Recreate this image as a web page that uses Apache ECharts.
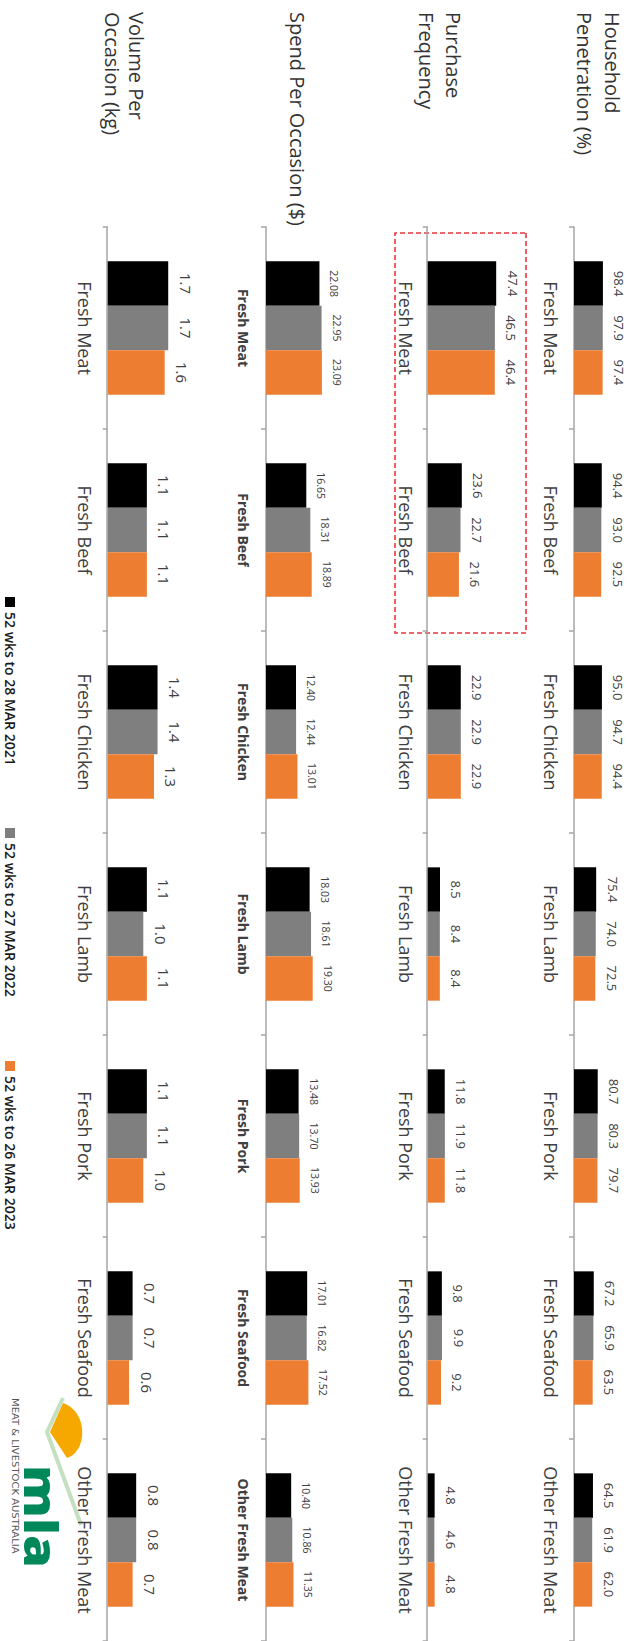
<!DOCTYPE html>
<html><head><meta charset="utf-8">
<script src="https://cdn.jsdelivr.net/npm/echarts@6/dist/echarts.min.js"></script>
<style>
html,body{margin:0;padding:0;background:#fff;overflow:hidden;width:627px;height:1641px;}
#chart{position:absolute;left:0;top:0;width:1641px;height:627px;transform-origin:0 0;transform:translateX(627px) rotate(90deg);}
</style></head><body><div id="chart"></div>
<script>
// ---------- data ----------
const categories = ['Fresh Meat','Fresh Beef','Fresh Chicken','Fresh Lamb','Fresh Pork','Fresh Seafood','Other Fresh Meat'];
const seriesNames = ['52 wks to 28 MAR 2021','52 wks to 27 MAR 2022','52 wks to 26 MAR 2023'];
const metricTitles = [['Household','Penetration (%)'],['Purchase','Frequency'],['Spend Per Occasion ($)'],['Volume Per','Occasion (kg)']];

const penetration2021 = [98.4, 94.4, 95.0, 75.4, 80.7, 67.2, 64.5];
const penetration2022 = [97.9, 93.0, 94.7, 74.0, 80.3, 65.9, 61.9];
const penetration2023 = [97.4, 92.5, 94.4, 72.5, 79.7, 63.5, 62.0];

const frequency2021 = [47.4, 23.6, 22.9, 8.5, 11.8, 9.8, 4.8];
const frequency2022 = [46.5, 22.7, 22.9, 8.4, 11.9, 9.9, 4.6];
const frequency2023 = [46.4, 21.6, 22.9, 8.4, 11.8, 9.2, 4.8];

const spend2021 = [22.08, 16.65, 12.40, 18.03, 13.48, 17.01, 10.40];
const spend2022 = [22.95, 18.31, 12.44, 18.61, 13.70, 16.82, 10.86];
const spend2023 = [23.09, 18.89, 13.01, 19.30, 13.93, 17.52, 11.35];

const volume2021 = [1.7, 1.1, 1.4, 1.1, 1.1, 0.7, 0.8];
const volume2022 = [1.7, 1.1, 1.4, 1.0, 1.1, 0.7, 0.8];
const volume2023 = [1.6, 1.1, 1.3, 1.1, 1.0, 0.6, 0.7];

const metricData = [
  [penetration2021, penetration2022, penetration2023],
  [frequency2021, frequency2022, frequency2023],
  [spend2021, spend2022, spend2023],
  [volume2021, volume2022, volume2023]
];
const axisMax = [100, 50, 25, 2];
const decimals = [1, 1, 2, 1];

// ---------- layout / style (chart drawn in landscape, then page-rotated) ----------
const FONT = 'Open Sans';
const colors = ['#000000', '#7f7f7f', '#ed7d31'];
const panelLayout = [
  {baseline: 53,    height: 29.4,  valueFont: 13,   valueDist: 10,  catFont: 18, catBold: false, catMargin: 14,   titleY: [15, 43]},
  {baseline: 199.3, height: 72.25, valueFont: 13,   valueDist: 10,  catFont: 18, catBold: false, catMargin: 13,   titleY: [174, 201]},
  {baseline: 361,   height: 60.5,  valueFont: 10.5, valueDist: 9.5, catFont: 14, catBold: true,  catMargin: 15.7, titleY: [330]},
  {baseline: 519.3, height: 71.2,  valueFont: 15,   valueDist: 10,  catFont: 18, catBold: false, catMargin: 14,   titleY: [491, 515]}
];
const legendLeft = [597, 828, 1061];

const grids = [], xAxes = [], yAxes = [], series = [], graphics = [];
panelLayout.forEach((p, i) => {
  grids.push({left: 227, width: 1419, top: p.baseline - p.height, height: p.height});
  xAxes.push({
    type: 'category', gridIndex: i, data: categories,
    axisLine: {lineStyle: {color: '#a6a6a6', width: 1.5}},
    axisTick: {show: true, length: 5, interval: 0, lineStyle: {color: '#a6a6a6', width: 1.5}},
    axisLabel: {interval: 0, margin: p.catMargin, fontSize: p.catFont, fontWeight: p.catBold ? 'bold' : 'normal', color: '#404040', fontFamily: FONT}
  });
  yAxes.push({type: 'value', gridIndex: i, min: 0, max: axisMax[i], show: false});
  metricData[i].forEach((vals, s) => {
    series.push({
      type: 'bar', name: seriesNames[s], xAxisIndex: i, yAxisIndex: i, data: vals,
      barGap: '0%', barCategoryGap: '34%',
      itemStyle: {color: colors[s]},
      label: {show: true, position: 'top', distance: p.valueDist, fontSize: p.valueFont, color: '#404040', fontFamily: FONT,
        formatter: (d) => d.value.toFixed(decimals[i])}
    });
  });
  metricTitles[i].forEach((line, k) => {
    graphics.push({type: 'text', x: 12, y: p.titleY[k], style: {text: line, fontSize: 20, fontFamily: FONT, fill: '#333333', verticalAlign: 'middle', align: 'left'}});
  });
});

// highlight box
graphics.push({type: 'rect', shape: {x: 233, y: 101, width: 400, height: 131}, style: {fill: 'none', stroke: '#e8363c', lineWidth: 1.6, lineDash: [5, 3]}});
// MLA logo
graphics.push({type: 'polyline', shape: {points: [[1398, 564], [1432, 580], [1525, 546]]}, style: {stroke: '#c4e0c0', lineWidth: 4, fill: 'none'}});
const domePts = [];
const P0 = [1458, 560], C1 = [1452, 540], C2 = [1412, 538], P3 = [1403, 564];
for (let k = 0; k <= 20; k++) {
  const t = k / 20, a = (1 - t) * (1 - t) * (1 - t), b = 3 * (1 - t) * (1 - t) * t, c = 3 * (1 - t) * t * t, d = t * t * t;
  domePts.push([a * P0[0] + b * C1[0] + c * C2[0] + d * P3[0], a * P0[1] + b * C1[1] + c * C2[1] + d * P3[1]]);
}
domePts.push([1432, 577]);
graphics.push({type: 'polygon', shape: {points: domePts}, style: {fill: '#f6a800'}});
graphics.push({type: 'text', x: 1465, y: 585, scaleX: 1.15, style: {text: 'mla', fontSize: 46, fontWeight: 800, fontFamily: FONT, fill: '#00875a', verticalAlign: 'middle', align: 'left'}});
graphics.push({type: 'text', x: 1398, y: 612, scaleX: 1.18, style: {text: 'MEAT & LIVESTOCK AUSTRALIA', fontSize: 8.5, fontFamily: 'DejaVu Sans', fill: '#555555', verticalAlign: 'middle', align: 'left'}});

const legends = seriesNames.map((n, i) => ({
  data: [n], left: legendLeft[i], top: 610, padding: 0, itemGap: 0, itemWidth: 10, itemHeight: 10, icon: 'rect',
  selectedMode: false,
  textStyle: {fontSize: 14, fontWeight: 600, color: '#1a1a1a', fontFamily: FONT}
}));

const chart = echarts.init(document.getElementById('chart'), null, {renderer: 'svg', width: 1641, height: 627});
chart.setOption({
  animation: false,
  backgroundColor: '#ffffff',
  grid: grids, xAxis: xAxes, yAxis: yAxes, series: series,
  legend: legends,
  graphic: graphics
});
</script></body></html>
